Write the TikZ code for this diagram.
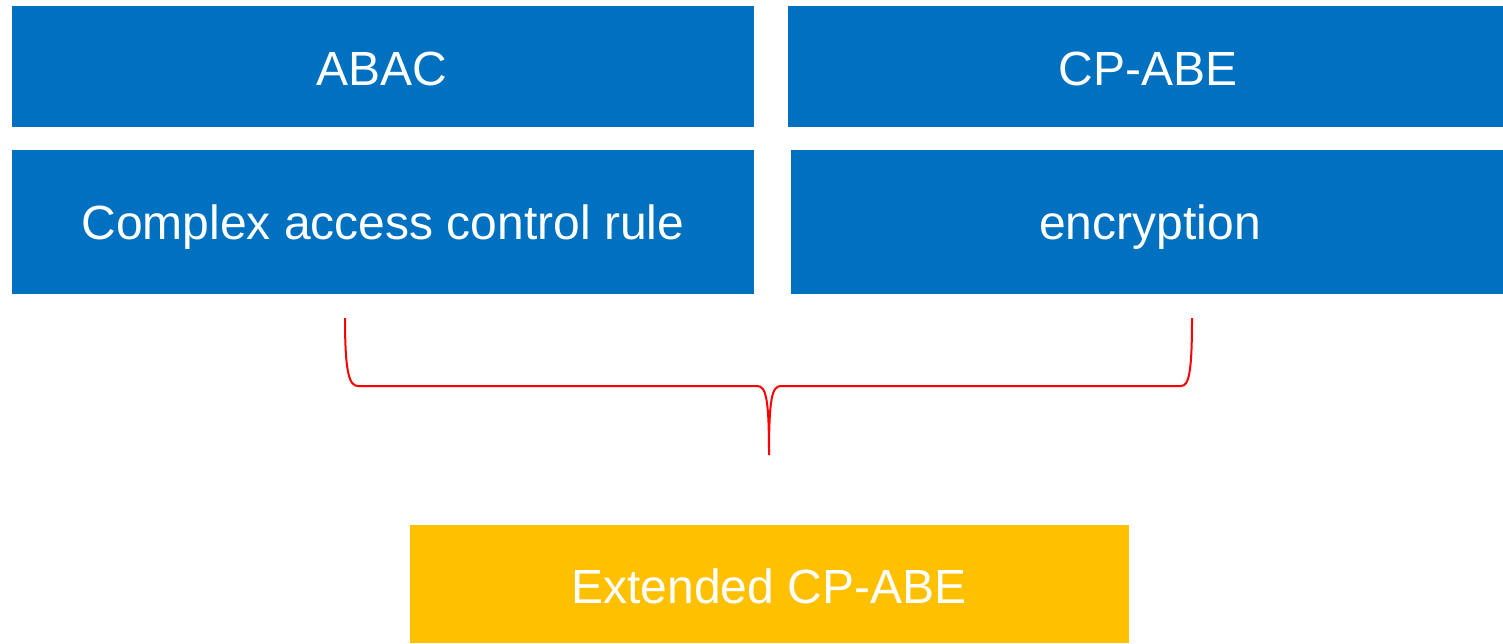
\documentclass[tikz,border=0pt]{standalone}
\usepackage{fontspec}
\setmainfont{Liberation Sans}
\definecolor{boxblue}{HTML}{0070C0}
\definecolor{boxgold}{HTML}{FFC000}
\definecolor{bracered}{HTML}{FF0000}
\begin{document}
\begin{tikzpicture}[x=1pt,y=-1pt,
  label text/.style={text=white,inner sep=0pt,anchor=base,
    font=\fontsize{48}{54}\selectfont},
  brace/.style={draw=bracered,line width=2pt}]
\useasboundingbox (0,0) rectangle (1503,643);
% top row
\fill[boxblue] (12,6) rectangle (754,127);
\node[label text] (abac) at (382,85) {ABAC};
\fill[boxblue] (788,6) rectangle (1503,127);
\node[label text] (cpabe) at (1148,85) {CP-ABE};
% second row
\fill[boxblue] (12,150) rectangle (754,294);
\node[label text] (rule) at (383,239) {Complex access control rule};
\fill[boxblue] (791,150) rectangle (1503,294);
\node[label text] (enc) at (1150,239) {encryption};
% result
\fill[boxgold] (410,525) rectangle (1129,643);
\node[label text] (ext) at (769,603) {Extended CP-ABE};
% curly brace joining both rows
\coordinate (bl) at (345,318);
\coordinate (br) at (1192,318);
\coordinate (tip) at (769,455);
\draw[brace] (bl) .. controls (345,372) and (349,386) .. (358,386)
  -- (757,386) .. controls (766,386) and (769,398) .. (tip)
  .. controls (769,398) and (772,386) .. (781,386)
  -- (1181,386) .. controls (1189,386) and (1192,372) .. (br);
\end{tikzpicture}
\end{document}
